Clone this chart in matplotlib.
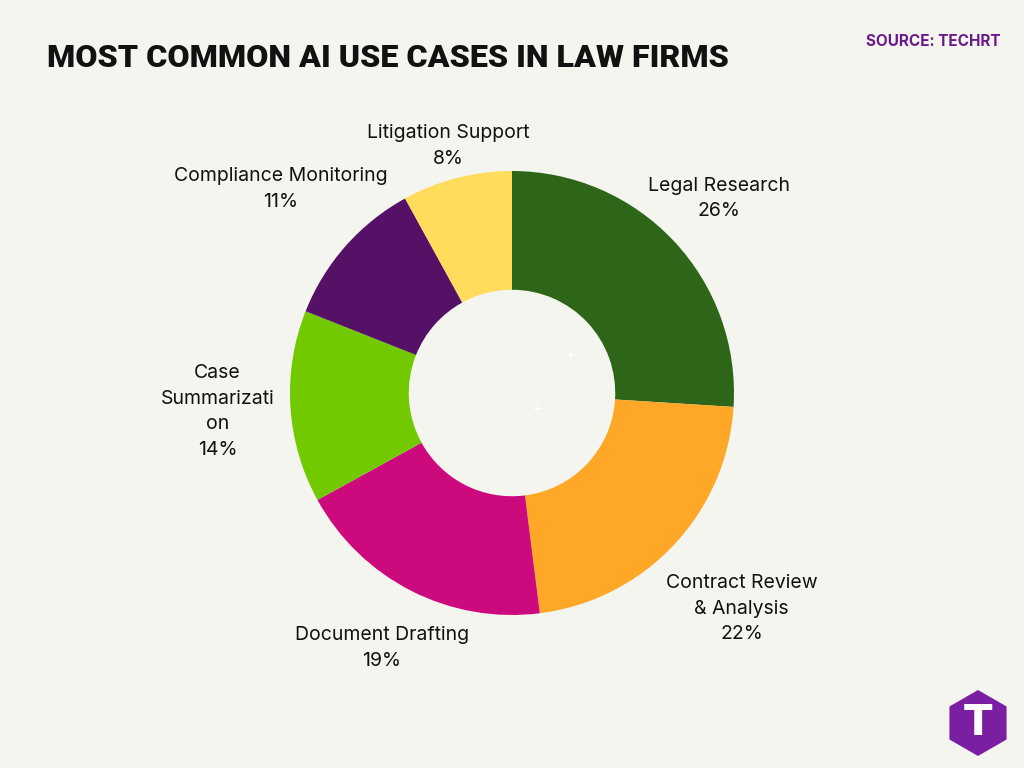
import matplotlib
matplotlib.use("Agg")
import matplotlib.pyplot as plt
import numpy as np
from matplotlib.patches import RegularPolygon

categories = ["Legal Research", "Contract Review\n& Analysis", "Document Drafting",
              "Case\nSummarizati\non", "Compliance Monitoring", "Litigation Support"]
values = [26, 22, 19, 14, 11, 8]
colors = ["#2e6619", "#ffa726", "#cc0a7d", "#72c900", "#541166", "#ffdc5c"]
label_dist = [1.28, 1.42, 1.29, 1.33, 1.39, 1.15]
title = "MOST COMMON AI USE CASES IN LAW FIRMS"

bg = "#f5f5f0"
fig = plt.figure(figsize=(10.24, 7.68), dpi=100, facecolor=bg)
ax = fig.add_axes([0, 0, 1, 1])
R = 222
cx, cy = 512, 375
wedges, _ = ax.pie(values, colors=colors, startangle=90, counterclock=False,
                   center=(cx, cy), radius=R,
                   wedgeprops=dict(width=R * 0.535, linewidth=0), frame=True)
for w, c, v, d in zip(wedges, categories, values, label_dist):
    a = np.deg2rad((w.theta1 + w.theta2) / 2)
    ax.text(cx + d * R * np.cos(a), cy + d * R * np.sin(a), f"{c}\n{v}%",
            ha="center", va="center", fontsize=14, family="Inter",
            color="#111111", linespacing=1.55)
ax.set_xlim(0, 1024); ax.set_ylim(0, 768); ax.set_aspect("equal"); ax.axis("off")

for px, py in [(570, 355), (537, 409)]:
    ax.text(px, 768 - py, "+", color="white", fontsize=10, ha="center", va="center")

t = fig.text(47, 768 - 58, title, transform=None, fontsize=30, fontweight="black",
             family="Roboto", va="center", ha="left", color="#111111")
fig.canvas.draw()
t.set_fontsize(30 * 681 / t.get_window_extent().width)

fig.text(1000, 768 - 42, "SOURCE: TECHRT", transform=None, fontsize=11,
         fontweight="bold", family="Inter", color="#6a1b8a", ha="right", va="center")

hexp = RegularPolygon((978, 768 - 723), numVertices=6, radius=33, orientation=0,
                      facecolor="#7b1fa2", edgecolor="none")
ax.add_patch(hexp)
ax.text(978, 768 - 723, "T", fontsize=30, fontweight="bold", color="white",
        ha="center", va="center", family="DejaVu Sans")

fig.savefig("out.png", dpi=100, facecolor=bg)
